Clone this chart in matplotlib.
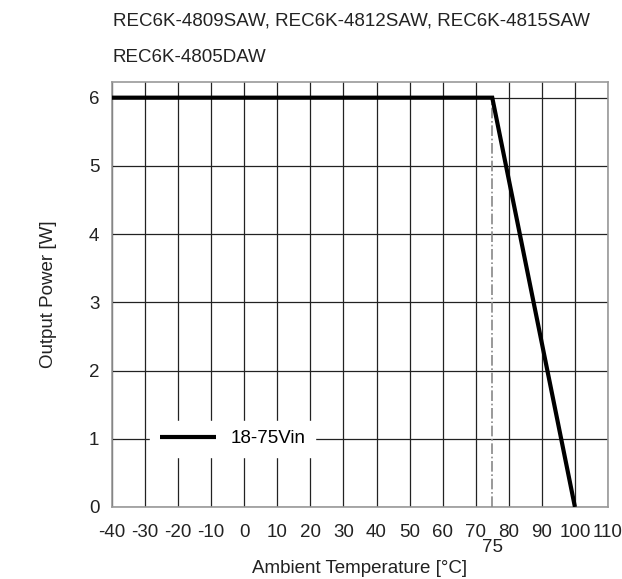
import matplotlib
matplotlib.use("Agg")
import matplotlib.pyplot as plt
from matplotlib import font_manager

# derating curve data
temps = [-40, 75, 100]
power = [6, 6, 0]
derate_start = 75
x_ticks = list(range(-40, 111, 10))
y_ticks = [0, 1, 2, 3, 4, 5, 6]
title_lines = ["REC6K-4809SAW, REC6K-4812SAW, REC6K-4815SAW", "REC6K-4805DAW"]
series_label = "18-75Vin"

names = {f.name for f in font_manager.fontManager.ttflist}
family = "Liberation Sans Narrow" if "Liberation Sans Narrow" in names else "Liberation Sans"
plt.rcParams['font.family'] = [family, 'DejaVu Sans']
plt.rcParams['font.size'] = 13.5
plt.rcParams['axes.unicode_minus'] = False

fig = plt.figure(figsize=(6.22, 5.79), dpi=100)
ax = fig.add_axes([0.18, 0.1244, 0.7975, 0.734])

ax.plot(temps, power, color='black', linewidth=3, label=series_label, zorder=4,
        solid_capstyle='butt', solid_joinstyle='miter')
ax.plot([derate_start, derate_start], [0, 6], color='#888888', linewidth=1.2,
        linestyle='-.', zorder=3)

ax.set_xlim(-40, 110)
ax.set_ylim(0, 6.23)
ax.set_xticks(x_ticks)
ax.set_yticks(y_ticks)
ax.grid(True, color='#222222', linewidth=0.9)
ax.set_axisbelow(True)
ax.tick_params(axis='x', length=0, pad=12, labelcolor='#222222')
ax.tick_params(axis='y', length=0, pad=9, labelcolor='#222222')
for s in ax.spines.values():
    s.set_color('#999999')
    s.set_linewidth(1.2)

ax.text(derate_start, -0.6, "75", ha='center', va='center', color='#222222')
ax.set_xlabel("Ambient Temperature [°C]", labelpad=14, color='#222222')
ax.set_ylabel("Output Power [W]", labelpad=23, color='#222222')

fig.text(113 / 622, 1 - 21 / 579, title_lines[0], ha='left', va='center', color='#222222')
fig.text(113 / 622, 1 - 58 / 579, title_lines[1], ha='left', va='center', color='#222222')

leg = ax.legend(loc='center', bbox_to_anchor=(-3.5, 1.0), bbox_transform=ax.transData,
                frameon=True, fancybox=False, handlelength=3.0, handletextpad=0.8,
                borderpad=0.5)
leg.get_frame().set_edgecolor('white')
leg.get_frame().set_facecolor('white')
leg.get_frame().set_alpha(1)

fig.savefig("out.png", dpi=100)
